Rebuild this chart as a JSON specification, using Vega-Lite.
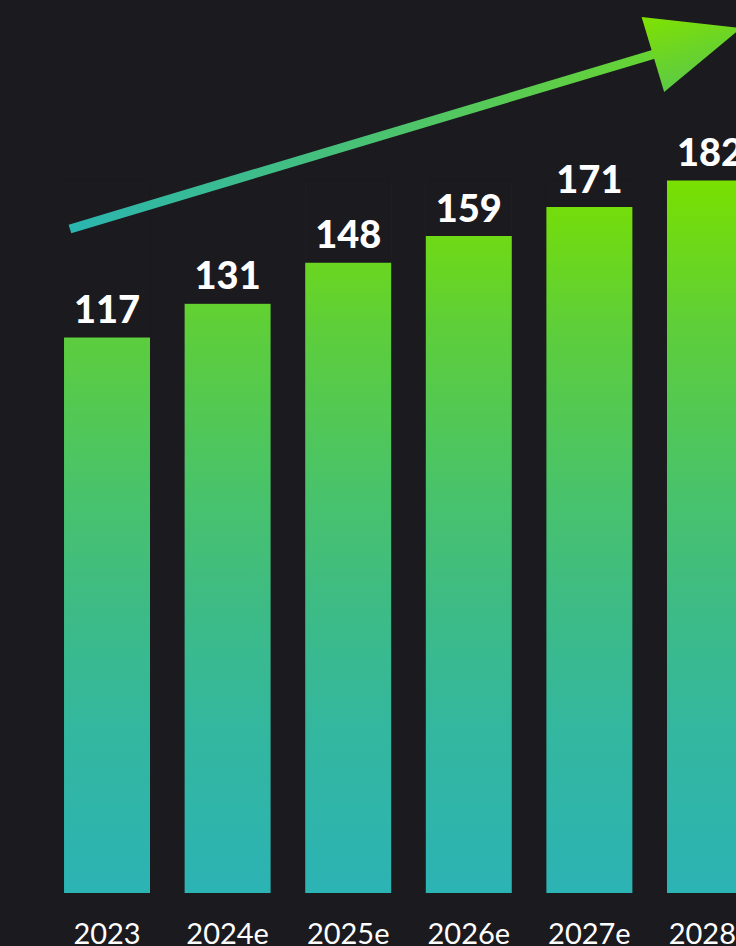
{
  "$schema": "https://vega.github.io/schema/vega-lite/v6.json",
  "width": 736,
  "height": 893,
  "autosize": {"type": "none"},
  "padding": {"left": 0, "top": 0, "right": 0, "bottom": 53},
  "background": "#1b1a1f",
  "config": {"view": {"stroke": null}},
  "datasets": {
    "bars": [
      {"year": "2023", "value": 117},
      {"year": "2024e", "value": 131},
      {"year": "2025e", "value": 148},
      {"year": "2026e", "value": 159},
      {"year": "2027e", "value": 171},
      {"year": "2028e", "value": 182}
    ],
    "arrow": [
      {"pos": -0.307, "level": 161.7},
      {"pos": 4.6, "level": 235.0}
    ],
    "head": [
      {"pos": 4.892, "level": 239.4}
    ]
  },
  "layer": [
    {
      "layer": [
        {
          "data": {"name": "bars"},
          "transform": [{"joinaggregate": [{"op": "max", "field": "value", "as": "top"}]}],
          "mark": {
            "type": "bar",
            "color": {
              "gradient": "linear",
              "x1": 0, "y1": 0, "x2": 0, "y2": 1,
              "stops": [
                {"offset": 0, "color": "#79e000"},
                {"offset": 0.224, "color": "#5ccd3e"},
                {"offset": 0.435, "color": "#49c36a"},
                {"offset": 0.603, "color": "#3dbb86"},
                {"offset": 0.771, "color": "#33b79f"},
                {"offset": 1, "color": "#2cb3b4"}
              ]
            }
          },
          "encoding": {
            "x": {
              "field": "year",
              "type": "nominal",
              "sort": null,
              "scale": {"range": [0, 817], "paddingInner": 0.287, "paddingOuter": 0.531},
              "axis": {
                "title": null,
                "orient": "bottom",
                "domain": false,
                "ticks": false,
                "tickSize": 0,
                "grid": false,
                "labelAngle": 0,
                "labelPadding": 50,
                "labelBaseline": "alphabetic",
                "labelFont": "Lato",
                "labelFontSize": 29,
                "labelFontWeight": "normal",
                "labelColor": "#ffffff",
                "labelOverlap": false
              }
            },
            "y": {"field": "top", "type": "quantitative", "scale": {"domain": [-113.2, 256.5], "nice": false, "zero": false}, "axis": null},
            "y2": {"datum": -113.2}
          }
        },
        {
          "data": {"name": "bars"},
          "transform": [{"joinaggregate": [{"op": "max", "field": "value", "as": "top"}]}],
          "mark": {"type": "bar", "color": "#1b1a1f", "stroke": "#1b1a1f", "strokeWidth": 1.2},
          "encoding": {
            "x": {"field": "year", "type": "nominal", "sort": null},
            "y": {"field": "top", "type": "quantitative", "scale": {"domain": [-113.2, 256.5], "nice": false, "zero": false}, "axis": null},
            "y2": {"field": "value"}
          }
        },
        {
          "data": {"name": "bars"},
          "mark": {"type": "text", "dy": -14, "baseline": "alphabetic", "align": "center", "font": "Lato", "fontSize": 38, "fontWeight": 900, "color": "#ffffff"},
          "encoding": {
            "x": {"field": "year", "type": "nominal", "sort": null},
            "y": {"field": "value", "type": "quantitative", "scale": {"domain": [-113.2, 256.5], "nice": false, "zero": false}, "axis": null},
            "text": {"field": "value", "type": "quantitative"}
          }
        }
      ]
    },
    {
      "layer": [
        {
          "data": {"name": "arrow"},
          "mark": {
            "type": "line",
            "strokeWidth": 9,
            "strokeCap": "butt",
            "color": {
              "gradient": "linear",
              "x1": 0, "y1": 0, "x2": 1, "y2": 0,
              "stops": [
                {"offset": 0, "color": "#2bb5b0"},
                {"offset": 0.5, "color": "#49c274"},
                {"offset": 1, "color": "#68d530"}
              ]
            }
          },
          "encoding": {
            "x": {"field": "pos", "type": "quantitative", "scale": {"domain": [-0.887, 5.216], "nice": false, "zero": false}, "axis": null},
            "y": {"field": "level", "type": "quantitative", "scale": {"domain": [-113.2, 256.5], "nice": false, "zero": false}, "axis": null}
          }
        },
        {
          "data": {"name": "head"},
          "mark": {
            "type": "point",
            "shape": "M1,0L-1,-0.85L-1,0.85Z",
            "size": 8464,
            "angle": 343.25,
            "filled": true,
            "opacity": 1,
            "strokeWidth": 0,
            "color": {
              "gradient": "linear",
              "x1": 0, "y1": 0, "x2": 0, "y2": 1,
              "stops": [
                {"offset": 0, "color": "#80e200"},
                {"offset": 1, "color": "#5cca45"}
              ]
            }
          },
          "encoding": {
            "x": {"field": "pos", "type": "quantitative", "scale": {"domain": [-0.887, 5.216], "nice": false, "zero": false}, "axis": null},
            "y": {"field": "level", "type": "quantitative", "scale": {"domain": [-113.2, 256.5], "nice": false, "zero": false}, "axis": null}
          }
        }
      ]
    }
  ],
  "resolve": {"scale": {"x": "independent"}, "axis": {"x": "independent"}}
}
